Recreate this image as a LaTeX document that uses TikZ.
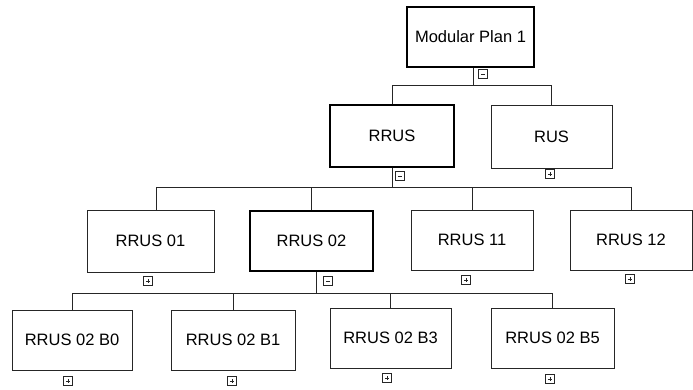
\documentclass[tikz,border=0pt]{standalone}
\usepackage{fontspec}
\setmainfont{Liberation Sans}
\begin{document}
\begin{tikzpicture}[x=1pt,y=-1pt,
  box/.style={draw=black!85, line width=0.8pt, inner sep=0pt, font=\fontsize{16.5}{19}\selectfont},
  bold/.style={box, line width=2.4pt, draw=black},
  conn/.style={draw=black!85, line width=0.9pt},
  ico/.style={draw=black!85, line width=0.7pt, minimum width=9.5pt, minimum height=8.5pt, inner sep=0pt},
  minusico/.style={ico, path picture={\draw[line width=0.6pt] ([xshift=2.5pt]path picture bounding box.west) -- ([xshift=-2.5pt]path picture bounding box.east);}},
  plusico/.style={ico, path picture={\draw[line width=0.6pt] ([xshift=2.5pt]path picture bounding box.west) -- ([xshift=-2.5pt]path picture bounding box.east);
     \draw[line width=0.6pt] ([yshift=-2pt]path picture bounding box.north) -- ([yshift=2pt]path picture bounding box.south);}}
]
\useasboundingbox (0,0) rectangle (693,389);

% level 1
\node[bold, minimum width=127pt, minimum height=60pt] (root) at (470.5,37) {Modular Plan 1};
% level 2
\node[bold, minimum width=124pt, minimum height=62pt] (rrus) at (392,136) {RRUS};
\node[box, minimum width=121pt, minimum height=63pt] (rus) at (551.5,136.5) {RUS};
% level 3
\node[box, minimum width=127pt, minimum height=62pt] (r01) at (150.5,241) {RRUS 01};
\node[bold, minimum width=123pt, minimum height=60pt] (r02) at (311.5,241) {RRUS 02};
\node[box, minimum width=122pt, minimum height=60pt] (r11) at (472,240) {RRUS 11};
\node[box, minimum width=122pt, minimum height=60pt] (r12) at (631,240) {RRUS 12};
% level 4
\node[box, minimum width=120pt, minimum height=60pt] (b0) at (72,340) {RRUS 02 B0};
\node[box, minimum width=124pt, minimum height=60pt] (b1) at (233,340) {RRUS 02 B1};
\node[box, minimum width=121pt, minimum height=60pt] (b3) at (390.5,338) {RRUS 02 B3};
\node[box, minimum width=123pt, minimum height=60pt] (b5) at (552.5,338) {RRUS 02 B5};

% expand / collapse icons
\node[minusico] (iroot) at (483,74) {};
\node[minusico] (irrus) at (400,176) {};
\node[plusico] (irus) at (550,174) {};
\node[plusico] (ir01) at (148,281) {};
\node[minusico] (ir02) at (328,281) {};
\node[plusico] (ir11) at (466,280) {};
\node[plusico] (ir12) at (630,279) {};
\node[plusico] (ib0) at (68,381) {};
\node[plusico] (ib1) at (232,381) {};
\node[plusico] (ib3) at (387,378) {};
\node[plusico] (ib5) at (550,379) {};

% junctions
\coordinate (j1) at (473,85);
\coordinate (j2) at (392,187);
\coordinate (j3) at (316,293);

% connectors
\draw[conn] (root.south -| j1) -- (j1);
\draw[conn] (rrus.north) |- (j1);
\draw[conn] (rus.north) |- (j1);

\draw[conn] (rrus.south -| j2) -- (j2);
\draw[conn] ([xshift=6pt]r01.north) |- (j2);
\draw[conn] (r02.north) |- (j2);
\draw[conn] (r11.north) |- (j2);
\draw[conn] (r12.north) |- (j2);

\draw[conn] (r02.south -| j3) -- (j3);
\draw[conn] (b0.north) |- (j3);
\draw[conn] (b1.north) |- (j3);
\draw[conn] (b3.north) |- (j3);
\draw[conn] (b5.north) |- (j3);
\end{tikzpicture}
\end{document}
